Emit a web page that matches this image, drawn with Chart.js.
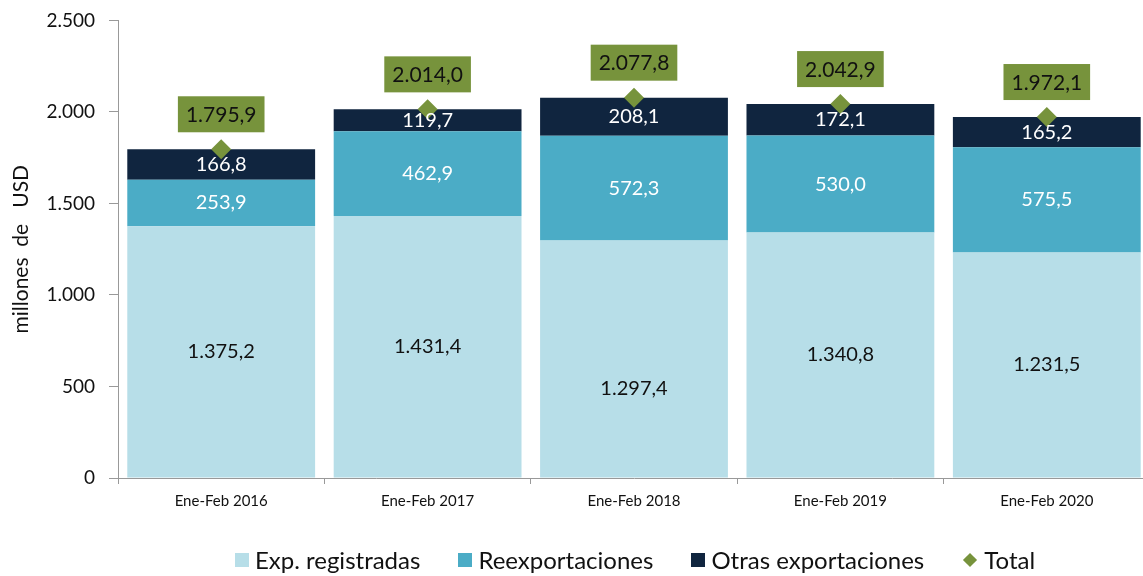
<!DOCTYPE html>
<html><head><meta charset="utf-8">
<script src="https://cdn.jsdelivr.net/npm/chart.js@4.4.0/dist/chart.umd.min.js"></script>
<style>
html,body{margin:0;padding:0;background:#fff;overflow:hidden;}
#wrap{position:relative;width:1143px;height:576px;overflow:hidden;}
#cv{position:absolute;left:0;top:-5px;}
#legend{position:absolute;top:545px;left:0;width:1270px;display:flex;justify-content:center;font-family:Lato,"Noto Sans",sans-serif;font-size:24px;color:#111;}
.it{display:flex;align-items:center;margin:0 19px;}
.sw{width:14px;height:14px;margin-right:6px;}
.dm{width:10px;height:10px;background:#77933c;transform:rotate(45deg);margin-right:9px;margin-left:3px;}
</style></head>
<body>
<div id="wrap">
<canvas id="cv" width="1160" height="581" style="width:1160px;height:581px"></canvas>
<div id="legend">
 <div class="it"><div class="sw" style="background:#b7dee8"></div>Exp. registradas</div>
 <div class="it"><div class="sw" style="background:#4bacc6"></div>Reexportaciones</div>
 <div class="it"><div class="sw" style="background:#10253f"></div>Otras exportaciones</div>
 <div class="it"><div class="dm"></div>Total</div>
</div>
</div>
<script>
const categories = ['Ene-Feb 2016','Ene-Feb 2017','Ene-Feb 2018','Ene-Feb 2019','Ene-Feb 2020'];
const expRegistradas = [1375.2, 1431.4, 1297.4, 1340.8, 1231.5];
const reexportaciones = [253.9, 462.9, 572.3, 530.0, 575.5];
const otrasExportaciones = [166.8, 119.7, 208.1, 172.1, 165.2];
const total = [1795.9, 2014.0, 2077.8, 2042.9, 1972.1];
const yTicks = [0, 500, 1000, 1500, 2000, 2500];

function fmt(v, dec){
  const s = v.toFixed(dec).split('.');
  const i = s[0].replace(/\B(?=(\d{3})+(?!\d))/g, '.');
  return dec ? i + ',' + s[1] : i;
}
const FONT = 'Lato, "Noto Sans", sans-serif';

const labelPlugin = {
  id: 'labels',
  afterDatasetsDraw(chart){
    const ctx = chart.ctx;
    ctx.save();
    ctx.textAlign = 'center';
    ctx.textBaseline = 'middle';
    const colors = ['#111', '#fff', '#fff'];
    const offsets = {0:[0,0,30,0,0]};
    for (let d = 0; d < 3; d++){
      const meta = chart.getDatasetMeta(d);
      ctx.font = '20px ' + FONT;
      ctx.fillStyle = colors[d];
      meta.data.forEach((bar, i) => {
        const p = bar.getProps(['x','y','base'], true);
        const off = (offsets[d] || [])[i] || 0;
        ctx.fillText(fmt(chart.data.datasets[d].data[i], 1), p.x, (p.y + p.base)/2 + off);
      });
    }
    const tm = chart.getDatasetMeta(3);
    ctx.font = '21px ' + FONT;
    tm.data.forEach((pt, i) => {
      const t = fmt(total[i], 1);
      const w = ctx.measureText(t).width + 16;
      const h = 36;
      const bottom = pt.y - 17;
      ctx.fillStyle = '#77933c';
      ctx.fillRect(pt.x - w/2, bottom - h, w, h);
      ctx.fillStyle = '#111';
      ctx.fillText(t, pt.x, bottom - h/2 + 1);
    });
    ctx.restore();
  }
};

new Chart(document.getElementById('cv'), {
  data: {
    labels: categories,
    datasets: [
      {type:'bar', label:'Exp. registradas', data: expRegistradas, backgroundColor:'#b7dee8', stack:'a', order:2},
      {type:'bar', label:'Reexportaciones', data: reexportaciones, backgroundColor:'#4bacc6', stack:'a', order:2},
      {type:'bar', label:'Otras exportaciones', data: otrasExportaciones, backgroundColor:'#10253f', stack:'a', order:2},
      {type:'line', label:'Total', data: total, stack:'t', showLine:false, pointStyle:'rectRot', pointRadius:10, pointHoverRadius:10,
       backgroundColor:'#77933c', borderColor:'#77933c', borderWidth:0, order:1}
    ]
  },
  options: {
    responsive:false, animation:false, devicePixelRatio:1,
    layout:{padding:{top:12, right:6, left:5, bottom:0}},
    datasets:{bar:{barPercentage:0.91, categoryPercentage:1}},
    plugins:{legend:{display:false}, tooltip:{enabled:false}},
    scales:{
      x:{stacked:true,
         grid:{drawOnChartArea:false, offset:true, color:'#999', tickLength:6},
         border:{color:'#999'},
         ticks:{font:{family:FONT, size:15}, color:'#111', padding:8},
         afterFit(s){ s.height = 98; }
      },
      y:{stacked:true, min:0, max:2500,
         afterBuildTicks(s){ s.ticks = yTicks.map(v => ({value:v})); },
         grid:{drawOnChartArea:false, color:'#999', tickLength:9},
         border:{color:'#999'},
         ticks:{font:{family:FONT, size:19}, color:'#111', padding:14, callback:v => fmt(v,0)},
         title:{display:true, text:'millones  de   USD', font:{family:FONT, size:21}, color:'#111', padding:{bottom:0}},
         afterFit(s){ s.width = 113; }
      }
    }
  },
  plugins:[labelPlugin]
});
</script>
</body></html>
